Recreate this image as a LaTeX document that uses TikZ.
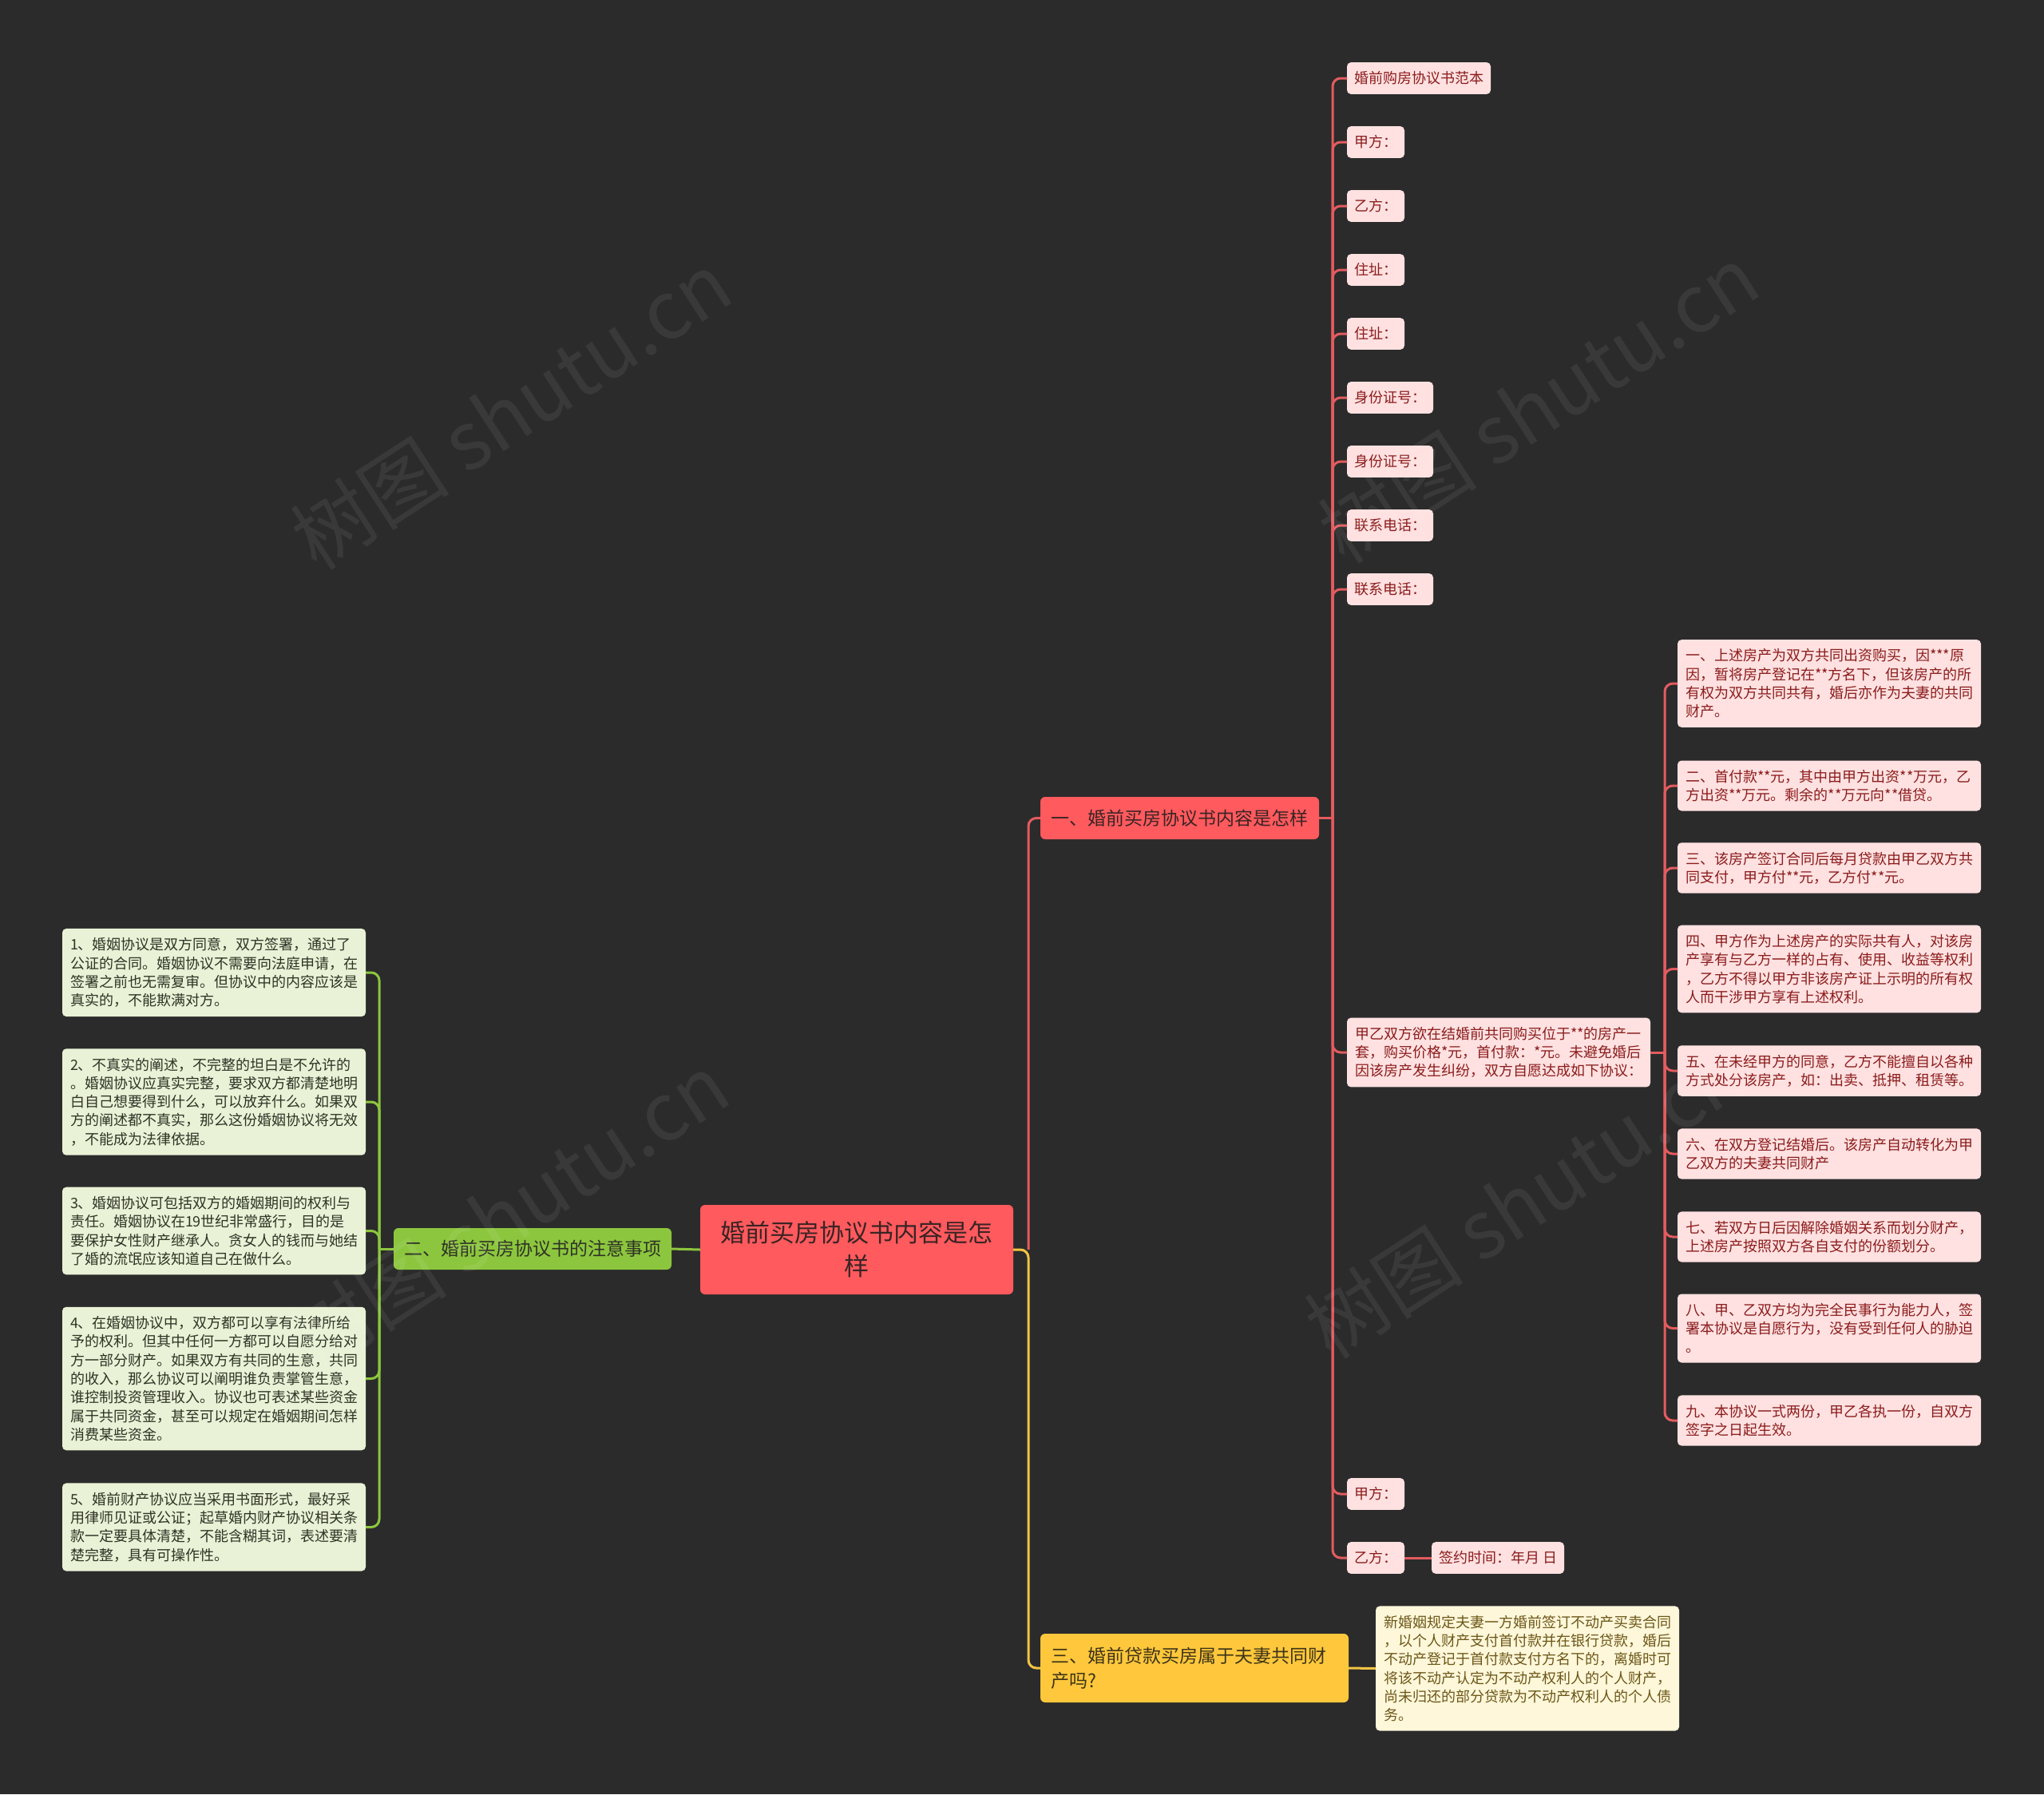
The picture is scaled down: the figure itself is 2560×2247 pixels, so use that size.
\documentclass[tikz,border=0pt]{standalone}
\usepackage{fontspec}
\setmainfont{Noto Sans CJK SC}
\definecolor{bg}{HTML}{2B2B2B}
\definecolor{cred}{HTML}{FF5A5E}
\definecolor{lred}{HTML}{E35B5F}
\definecolor{lpink}{HTML}{FFE1E1}
\definecolor{tred}{HTML}{8B1C1C}
\definecolor{tdark}{HTML}{3A2424}
\definecolor{cgreen}{HTML}{8CC63E}
\definecolor{lgreen}{HTML}{E9F2D6}
\definecolor{tgreen}{HTML}{2F3326}
\definecolor{cyellow}{HTML}{FFC83C}
\definecolor{lyellowline}{HTML}{F2C443}
\definecolor{lyellow}{HTML}{FFF7DA}
\definecolor{tyellow}{HTML}{6B5718}
\definecolor{tyb}{HTML}{3F3418}
\begin{document}
\begin{tikzpicture}[x=1pt,y=-1pt,
  every node/.style={inner sep=0pt,outer sep=0pt},
  rline/.style={line width=3pt,draw=lred,rounded corners=10pt},
  gline/.style={line width=3pt,draw=cgreen,rounded corners=10pt},
  yline/.style={line width=3pt,draw=lyellowline,rounded corners=10pt},
  small/.style={font=\fontsize{18}{23.3}\selectfont},
  shortleaf/.style={small,fill=lpink,text=tred,rounded corners=5pt,anchor=west,inner xsep=9pt,inner ysep=11.5pt},
  longleaf/.style={small,rounded corners=5pt,anchor=west,inner xsep=10pt,inner ysep=11.5pt,text width=360pt,align=left},
  redleaf/.style={longleaf,fill=lpink,text=tred},
  greenleaf/.style={longleaf,fill=lgreen,text=tgreen},
  yellowleaf/.style={longleaf,fill=lyellow,text=tyellow},
  branch/.style={font=\fontsize{23}{31}\selectfont,rounded corners=6pt,anchor=west,minimum height=53pt},
  wmark/.style={font=\fontsize{100}{100}\selectfont,text=white,opacity=0.07,rotate=33}
]
\fill[bg] (0,0) rectangle (2560,2247);

% central and main branches
\node[fill=cred,text=tdark,rounded corners=6pt,anchor=west,minimum width=392pt,minimum height=112pt,align=center,font=\fontsize{31}{42}\selectfont] (c) at (877,1565) {婚前买房协议书内容是怎\\样};
\node[branch,fill=cred,text=tdark,minimum width=349pt] (b1) at (1303,1024.5) {一、婚前买房协议书内容是怎样};
\node[branch,fill=cgreen,text=tgreen,minimum width=348pt,minimum height=52pt] (b2) at (493,1564) {二、婚前买房协议书的注意事项};
\node[branch,fill=cyellow,text=tyb,minimum width=386pt,minimum height=86pt,text width=360pt,align=left,inner xsep=13pt] (b3) at (1303,2089) {三、婚前贷款买房属于夫妻共同财\\产吗?};

% red short leaves
\node[shortleaf] (r1) at (1687,98) {婚前购房协议书范本};
\node[shortleaf] (r2) at (1687,178) {甲方：};
\node[shortleaf] (r3) at (1687,258) {乙方：};
\node[shortleaf] (r4) at (1687,338) {住址：};
\node[shortleaf] (r5) at (1687,418) {住址：};
\node[shortleaf] (r6) at (1687,498) {身份证号：};
\node[shortleaf] (r7) at (1687,578) {身份证号：};
\node[shortleaf] (r8) at (1687,658) {联系电话：};
\node[shortleaf] (r9) at (1687,738) {联系电话：};
\node[redleaf] (jy) at (1687,1318) {甲乙双方欲在结婚前共同购买位于**的房产一\\套，购买价格*元，首付款：*元。未避免婚后\\因该房产发生纠纷，双方自愿达成如下协议：};
\node[shortleaf] (rj) at (1687,1871) {甲方：};
\node[shortleaf] (ry) at (1687,1951) {乙方：};
\node[shortleaf] (qy) at (1793,1951) {签约时间：年月 日};

% sub leaves
\node[redleaf] (s1) at (2101,856) {一、上述房产为双方共同出资购买，因***原\\因，暂将房产登记在**方名下，但该房产的所\\有权为双方共同共有，婚后亦作为夫妻的共同\\财产。};
\node[redleaf] (s2) at (2101,984) {二、首付款**元，其中由甲方出资**万元，乙\\方出资**万元。剩余的**万元向**借贷。};
\node[redleaf] (s3) at (2101,1087) {三、该房产签订合同后每月贷款由甲乙双方共\\同支付，甲方付**元，乙方付**元。};
\node[redleaf] (s4) at (2101,1213.5) {四、甲方作为上述房产的实际共有人，对该房\\产享有与乙方一样的占有、使用、收益等权利\\，乙方不得以甲方非该房产证上示明的所有权\\人而干涉甲方享有上述权利。};
\node[redleaf] (s5) at (2101,1341) {五、在未经甲方的同意，乙方不能擅自以各种\\方式处分该房产，如：出卖、抵押、租赁等。};
\node[redleaf] (s6) at (2101,1445) {六、在双方登记结婚后。该房产自动转化为甲\\乙双方的夫妻共同财产};
\node[redleaf] (s7) at (2101,1549) {七、若双方日后因解除婚姻关系而划分财产，\\上述房产按照双方各自支付的份额划分。};
\node[redleaf] (s8) at (2101,1663.5) {八、甲、乙双方均为完全民事行为能力人，签\\署本协议是自愿行为，没有受到任何人的胁迫\\。};
\node[redleaf] (s9) at (2101,1779) {九、本协议一式两份，甲乙各执一份，自双方\\签字之日起生效。};

% green leaves
\node[greenleaf] (g1) at (78,1218) {1、婚姻协议是双方同意，双方签署，通过了\\公证的合同。婚姻协议不需要向法庭申请，在\\签署之前也无需复审。但协议中的内容应该是\\真实的，不能欺满对方。};
\node[greenleaf] (g2) at (78,1380) {2、不真实的阐述，不完整的坦白是不允许的\\。婚姻协议应真实完整，要求双方都清楚地明\\白自己想要得到什么，可以放弃什么。如果双\\方的阐述都不真实，那么这份婚姻协议将无效\\，不能成为法律依据。};
\node[greenleaf] (g3) at (78,1541.5) {3、婚姻协议可包括双方的婚姻期间的权利与\\责任。婚姻协议在19世纪非常盛行，目的是\\要保护女性财产继承人。贪女人的钱而与她结\\了婚的流氓应该知道自己在做什么。};
\node[greenleaf] (g4) at (78,1726.5) {4、在婚姻协议中，双方都可以享有法律所给\\予的权利。但其中任何一方都可以自愿分给对\\方一部分财产。如果双方有共同的生意，共同\\的收入，那么协议可以阐明谁负责掌管生意，\\谁控制投资管理收入。协议也可表述某些资金\\属于共同资金，甚至可以规定在婚姻期间怎样\\消费某些资金。};
\node[greenleaf] (g5) at (78,1912.5) {5、婚前财产协议应当采用书面形式，最好采\\用律师见证或公证；起草婚内财产协议相关条\\款一定要具体清楚，不能含糊其词，表述要清\\楚完整，具有可操作性。};

% yellow leaf
\node[yellowleaf] (yl) at (1723,2089.5) {新婚姻规定夫妻一方婚前签订不动产买卖合同\\，以个人财产支付首付款并在银行贷款，婚后\\不动产登记于首付款支付方名下的，离婚时可\\将该不动产认定为不动产权利人的个人财产，\\尚未归还的部分贷款为不动产权利人的个人债\\务。};

% connectors
\coordinate (j0) at (1288,1565);
\coordinate (j1) at (1669,1024.5);
\coordinate (j2) at (2085,1318);
\coordinate (j3) at (475,1564);

\draw[rline] (j0) |- (b1.west);
\draw[yline] (c.east) -- (j0) |- (b3.west);
\draw[gline] (c.west) -- (b2.east);

\draw[gline] (b2.west) -- (j3);
\foreach \n in {g1,g2,g3,g4,g5} \draw[gline] (j3) |- (\n.east);

\draw[rline] (b1.east) -- (j1);
\foreach \n in {r1,r2,r3,r4,r5,r6,r7,r8,r9,jy,rj,ry} \draw[rline] (j1) |- (\n.west);

\draw[rline] (jy.east) -- (j2);
\foreach \n in {s1,s2,s3,s4,s5,s6,s7,s8,s9} \draw[rline] (j2) |- (\n.west);

\draw[rline] (ry.east) -- (qy.west);
\draw[yline] (b3.east) -- (yl.west);

% watermarks
\node[wmark] at (640,514) {树图 shutu.cn};
\node[wmark] at (1927,506) {树图 shutu.cn};
\node[wmark] at (637,1518) {树图 shutu.cn};
\node[wmark] at (1910,1502) {树图 shutu.cn};
\end{tikzpicture}
\end{document}
